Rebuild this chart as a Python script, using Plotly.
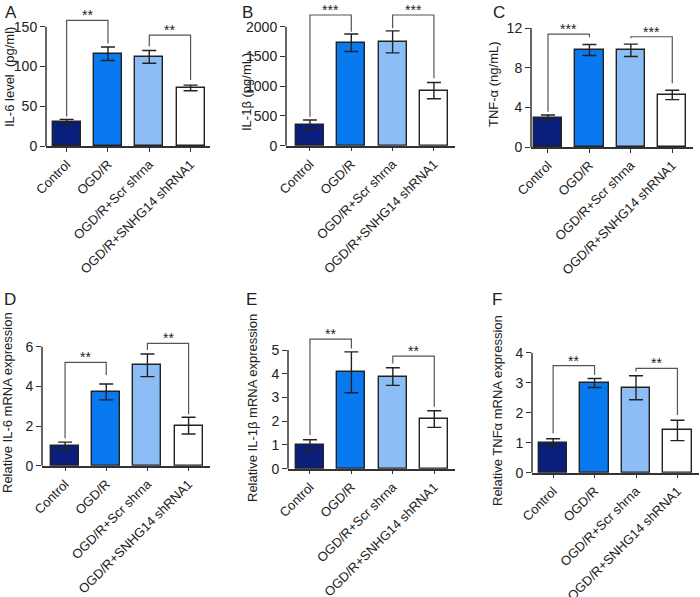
import plotly.graph_objects as go

categories = ["Control", "OGD/R", "OGD/R+Scr shrna", "OGD/R+SNHG14 shRNA1"]
bar_colors = ["#0a1f7c", "#0979f0", "#8dbdf5", "#ffffff"]

panel_letters = ["A", "B", "C", "D", "E", "F"]
y_titles = ["IL-6 level  (pg/ml)", "IL-1β (pg/mL)", "TNF-α (ng/mL)",
            "Relative IL-6 mRNA expression", "Relative IL-1β mRNA expression",
            "Relative TNFα mRNA expression"]

il6_level = [30, 116, 112, 73]
il6_level_err = [3.5, 8.5, 8, 3.5]
il1b_level = [355, 1730, 1745, 925]
il1b_level_err = [78, 148, 185, 137]
tnfa_level = [2.95, 9.78, 9.75, 5.25]
tnfa_level_err = [0.27, 0.55, 0.62, 0.47]
il6_mrna = [1.0, 3.72, 5.06, 2.02]
il6_mrna_err = [0.19, 0.4, 0.57, 0.42]
il1b_mrna = [1.01, 4.06, 3.88, 2.09]
il1b_mrna_err = [0.21, 0.86, 0.37, 0.35]
tnfa_mrna = [1.0, 2.99, 2.83, 1.41]
tnfa_mrna_err = [0.13, 0.15, 0.4, 0.34]

y_ticks_A = [0, 50, 100, 150]
y_ticks_B = [0, 500, 1000, 1500, 2000]
y_ticks_C = [0, 4, 8, 12]
y_ticks_D = [0, 2, 4, 6]
y_ticks_E = [0, 1, 2, 3, 4, 5]
y_ticks_F = [0, 1, 2, 3, 4]

# significance brackets: (left bar, right bar, bracket top, left leg end, right leg end, label)
sig_A = [(0, 1, 158, 37, 129, "**"), (2, 3, 139.5, 125, 83, "**")]
sig_B = [(0, 1, 2197, 487, 1916, "***"), (2, 3, 2197, 1973, 1133, "***")]
sig_C = [(0, 1, 11.39, 3.56, 11.06, "***"), (2, 3, 11.12, 10.96, 6.42, "***")]
sig_D = [(0, 1, 5.21, 1.38, 4.57, "**"), (2, 3, 6.17, 5.83, 2.6, "**")]
sig_E = [(0, 1, 5.46, 1.42, 5.06, "**"), (2, 3, 4.74, 4.43, 2.61, "**")]
sig_F = [(0, 1, 3.57, 1.31, 3.26, "**"), (2, 3, 3.48, 3.37, 1.92, "**")]

values = [il6_level, il1b_level, tnfa_level, il6_mrna, il1b_mrna, tnfa_mrna]
errors = [il6_level_err, il1b_level_err, tnfa_level_err, il6_mrna_err, il1b_mrna_err, tnfa_mrna_err]
ticks = [y_ticks_A, y_ticks_B, y_ticks_C, y_ticks_D, y_ticks_E, y_ticks_F]
sigs = [sig_A, sig_B, sig_C, sig_D, sig_E, sig_F]

# layout geometry in pixels
W, H = 700, 597
geom = [
    # x axis px, x right px, x range, y zero px, y max-tick px, plot top px
    (46, 210, (-0.5, 3.47), 146, 26.7, 10),
    (286, 455, (-0.58, 3.51), 145.7, 26.7, 8),
    (531, 693, (-0.41, 3.5), 147, 28, 18),
    (42, 210, (-0.56, 3.52), 465.7, 346.7, 334),
    (288, 455, (-0.53, 3.5), 468.7, 350, 332),
    (532, 699, (-0.51, 3.52), 472.7, 352.7, 343),
]
title_pos = [(10, 77), (247, 92), (494, 84), (7, 403), (252, 408), (497, 411)]
letter_pos = [(3, 1), (240, 1), (491, 1), (2, 288), (244, 288), (490, 288)]

FONT = "Liberation Sans, Arial, sans-serif"
INK = "#222222"

fig = go.Figure()
layout = dict(width=W, height=H, margin=dict(l=0, r=0, t=0, b=0),
              plot_bgcolor="white", paper_bgcolor="white", showlegend=False,
              font=dict(family=FONT, color=INK), bargap=0)
shapes = []
annotations = []

for i in range(6):
    k = "" if i == 0 else str(i + 1)
    xl, xr, xrange_, y0, ytk, ytop = geom[i]
    maxtick = ticks[i][-1]
    ymax = maxtick * (y0 - ytop) / (y0 - ytk)
    fig.add_trace(go.Bar(
        x=list(range(len(categories))), y=values[i], width=0.68,
        marker=dict(color=bar_colors, line=dict(color=INK, width=1.4)),
        error_y=dict(type="data", array=errors[i], visible=True, color=INK,
                     thickness=1.4, width=7),
        xaxis="x" + k, yaxis="y" + k, hoverinfo="skip"))
    layout["xaxis" + k] = dict(
        domain=[xl / W, xr / W], range=list(xrange_), anchor="y" + k,
        tickvals=list(range(len(categories))), ticktext=categories, tickangle=-45,
        ticks="outside", ticklen=4, tickwidth=1.4, tickcolor="#333",
        showline=True, linecolor="#333", linewidth=1.5, showgrid=False,
        zeroline=False, tickfont=dict(size=13, family=FONT, color=INK),
        automargin=False, fixedrange=True)
    layout["yaxis" + k] = dict(
        domain=[1 - y0 / H, 1 - ytop / H], range=[0, ymax], anchor="x" + k,
        tickvals=ticks[i], ticks="outside", ticklen=5, tickwidth=1.4, tickcolor="#333",
        showline=False, showgrid=False, zeroline=False,
        tickfont=dict(size=14, family=FONT, color=INK), automargin=False, fixedrange=True)
    shapes.append(dict(type="line", xref="x" + k + " domain", yref="y" + k,
                       x0=0, x1=0, y0=0, y1=maxtick,
                       line=dict(color="#333", width=1.5)))
    for (a, b, top, la, lb, lab) in sigs[i]:
        shapes.append(dict(type="path", xref="x" + k, yref="y" + k,
                           path=f"M {a},{la} L {a},{top} L {b},{top} L {b},{lb}",
                           line=dict(color="#555", width=1.2)))
        annotations.append(dict(xref="x" + k, yref="y" + k, x=(a + b) / 2, y=top,
                                text=lab, showarrow=False, yanchor="bottom",
                                yshift=-5, font=dict(size=14, family=FONT, color=INK)))
    tx, ty = title_pos[i]
    annotations.append(dict(xref="paper", yref="paper", x=tx / W, y=1 - ty / H,
                            text=y_titles[i], textangle=-90, showarrow=False,
                            xanchor="center", yanchor="middle",
                            font=dict(size=13, family=FONT, color=INK)))
    lx, ly = letter_pos[i]
    annotations.append(dict(xref="paper", yref="paper", x=lx / W, y=1 - ly / H,
                            text=panel_letters[i], showarrow=False,
                            xanchor="left", yanchor="top",
                            font=dict(size=17, family=FONT, color=INK)))

layout["shapes"] = shapes
layout["annotations"] = annotations
fig.update_layout(**layout)
fig.write_html("out.html", config={"displayModeBar": False},
               post_script="document.documentElement.style.margin='0';"
                           "document.body.style.margin='0';"
                           "document.body.style.overflow='hidden';")
